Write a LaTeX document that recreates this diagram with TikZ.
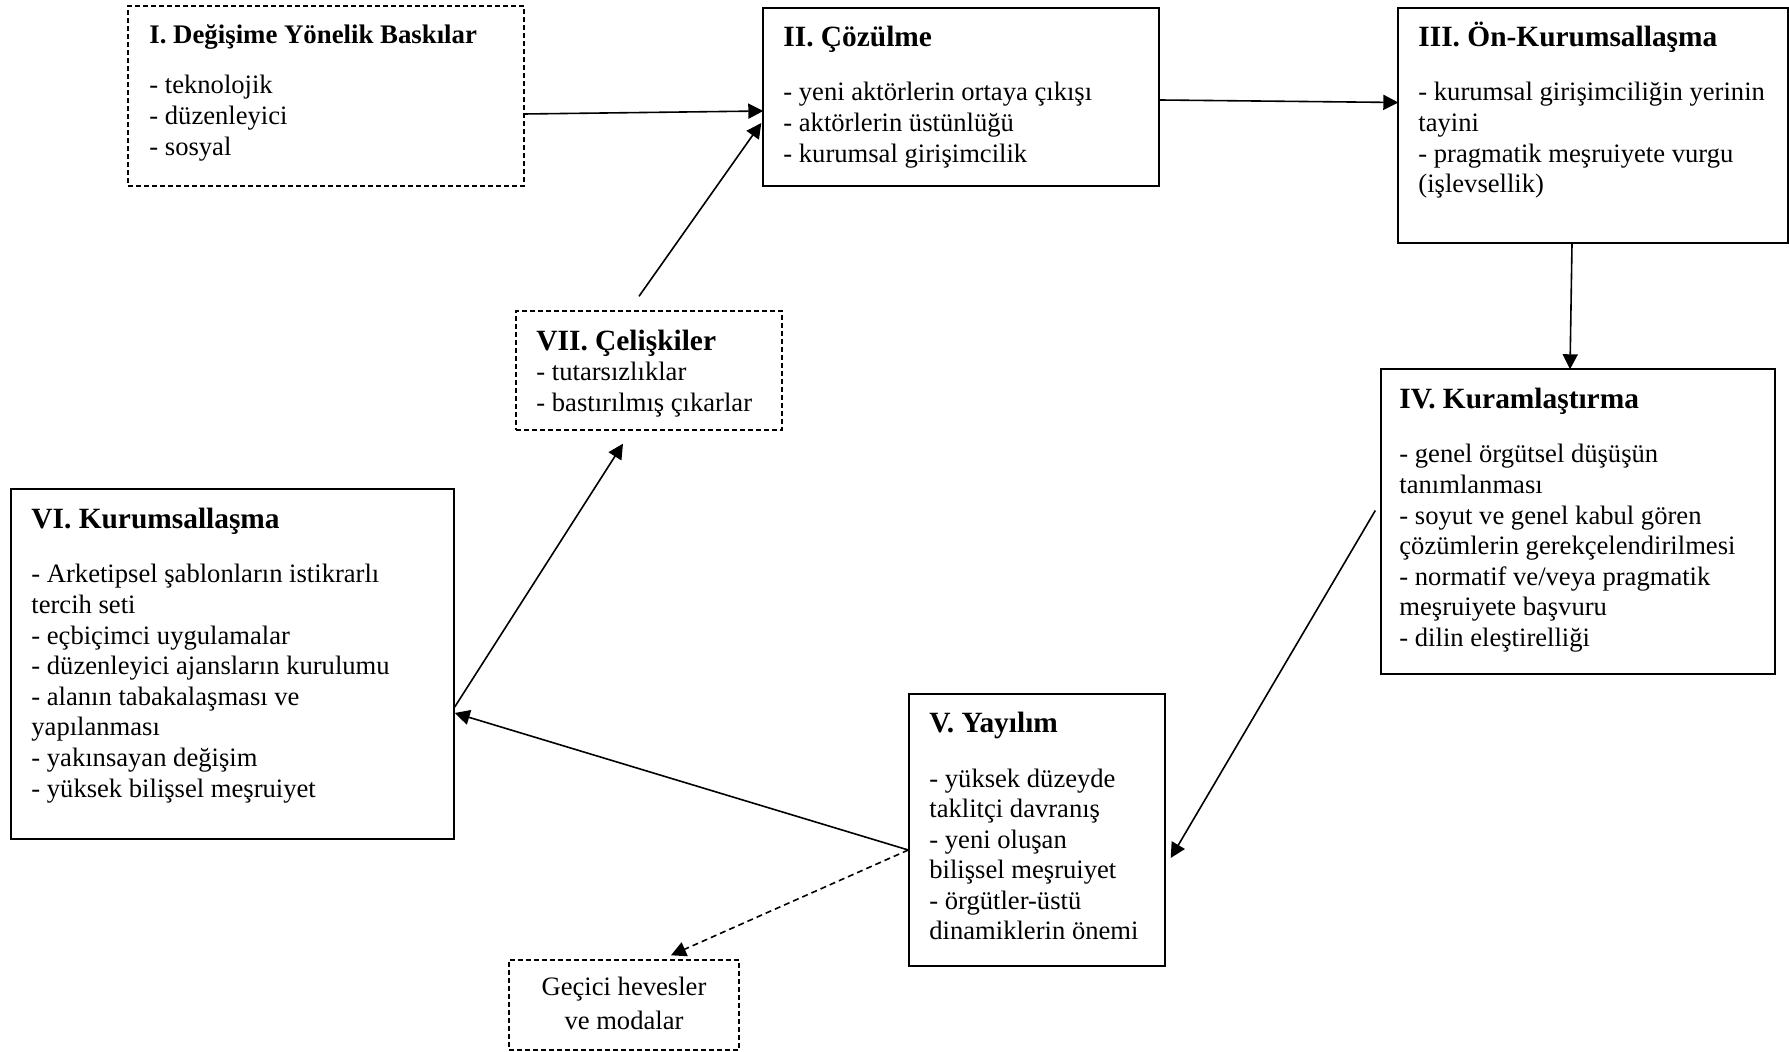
\documentclass[tikz,border=0pt]{standalone}
\usepackage{fontspec}
\setmainfont{Liberation Serif}
\usetikzlibrary{arrows.meta,fit,calc}
\newcommand\boxtitle[2][14.7]{\rule{0pt}{14pt}{\fontsize{#1}{15.3}\selectfont\bfseries #2}}
\begin{document}
\begin{tikzpicture}[x=0.5pt,y=-0.5pt,
  box/.style={draw, line width=0.7pt, inner sep=0pt},
  dbox/.style={box, dash pattern=on 2.5pt off 1.5pt},
  txt/.style={anchor=north west, inner sep=0pt, align=left, font=\fontsize{13.3}{15.3}\selectfont},
  conn/.style={line width=0.8pt, -{Triangle[length=7.5pt,width=7.5pt]}},
]
\useasboundingbox (0,0) rectangle (1789,1052);

% boxes
\node[dbox, fit={(128,6) (524,186)}] (b1) {};
\node[box, fit={(763,8) (1159,186)}] (b2) {};
\node[box, fit={(1398,8) (1788,243)}] (b3) {};
\node[box, fit={(1381,369) (1775,674)}] (b4) {};
\node[box, fit={(909,694) (1165,966)}] (b5) {};
\node[box, fit={(11,489) (454,839)}] (b6) {};
\node[dbox, fit={(516,311) (782,430)}] (b7) {};
\node[dbox, fit={(509,960) (739,1050)}] (bg) {};

% texts
\node[txt] (t1) at (149,15) {\boxtitle[13.4]{I. Değişime Yönelik Baskılar}\\[10pt]
- teknolojik\\ - düzenleyici\\ - sosyal};
\node[txt] (t2) at (783,18) {\boxtitle{II. Çözülme}\\[12pt]
- yeni aktörlerin ortaya çıkışı\\ - aktörlerin üstünlüğü\\ - kurumsal girişimcilik};
\node[txt] (t3) at (1418,18) {\boxtitle{III. Ön-Kurumsallaşma}\\[12pt]
- kurumsal girişimciliğin yerinin\\ tayini\\ - pragmatik meşruiyete vurgu\\ (işlevsellik)};
\node[txt] (t4) at (1399,380) {\boxtitle{IV. Kuramlaştırma}\\[12pt]
- genel örgütsel düşüşün\\ tanımlanması\\ - soyut ve genel kabul gören\\ çözümlerin gerekçelendirilmesi\\
- normatif ve/veya pragmatik\\ meşruiyete başvuru\\ - dilin eleştirelliği};
\node[txt] (t5) at (929,704) {\boxtitle{V. Yayılım}\\[12pt]
- yüksek düzeyde\\ taklitçi davranış\\ - yeni oluşan\\ bilişsel meşruiyet\\ - örgütler-üstü\\ dinamiklerin önemi};
\node[txt] (t6) at (31,500) {\boxtitle{VI. Kurumsallaşma}\\[12pt]
- Arketipsel şablonların istikrarlı\\ tercih seti\\ - eçbiçimci uygulamalar\\ - düzenleyici ajansların kurulumu\\
- alanın tabakalaşması ve\\ yapılanması\\ - yakınsayan değişim\\ - yüksek bilişsel meşruiyet};
\node[txt] (t7) at (536,322) {\boxtitle{VII. Çelişkiler}\\
- tutarsızlıklar\\ - bastırılmış çıkarlar};
\node[txt, anchor=north, align=center, font=\fontsize{13.3}{17}\selectfont] (tg) at (624,967)
  {\rule{0pt}{14pt}Geçici hevesler\\ ve modalar};

% connectors
\draw[conn] ($(b1.east)+(0,18)$) -- ($(b2.west)+(1,14)$);
\draw[conn] ($(b7.north)+(-10,-14)$) -- ($(b2.west)+(-1,26)$);
\draw[conn] ($(b2.east)+(0,3)$) -- ($(b3.west)+(1,-23)$);
\draw[conn] ($(b3.south)+(-21,0)$) -- ($(b4.north)+(-8,1)$);
\draw[conn] ($(b4.west)+(-5,-11)$) -- ($(b5.east)+(5,28)$);
\draw[conn] ($(b5.west)+(0,20)$) -- ($(b6.east)+(0,49)$);
\draw[conn] ($(b6.east)+(0,43)$) -- ($(b7.south)+(-26,13)$);
\draw[conn, dash pattern=on 3pt off 2pt] ($(b5.west)+(0,20)$) -- ($(bg.north)+(47,-4)$);
\end{tikzpicture}
\end{document}
